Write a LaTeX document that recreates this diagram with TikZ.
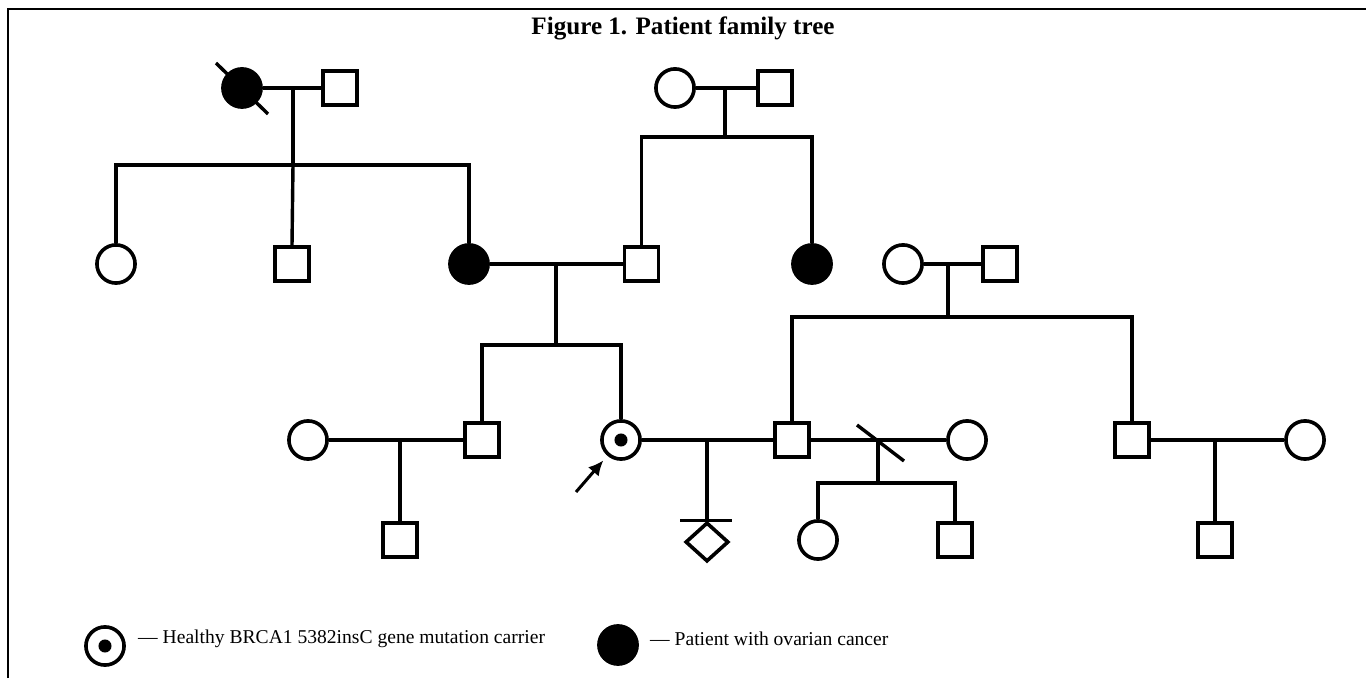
\documentclass[tikz,border=0pt]{standalone}
\usepackage{fontspec}
\setmainfont{Liberation Serif}
\usetikzlibrary{shapes,arrows,arrows.meta}
\usetikzlibrary{calc}
\tikzset{
  line/.style={draw, line width=3.4pt},
  female/.style={circle, draw, line width=3.6pt, minimum size=38pt, inner sep=0pt},
  male/.style={rectangle, draw, line width=3.6pt, minimum size=34pt, inner sep=0pt},
  affected/.style={fill=black},
  carrier/.style={female, path picture={\fill (path picture bounding box.center) circle (6.5pt);}},
  legendtext/.style={anchor=west, inner sep=0pt, font=\fontsize{19.5}{22}\selectfont}
}

\begin{document}
\begin{tikzpicture}[x=3.5cm, y=3.5cm]
  \useasboundingbox (0,0) rectangle (13.66,6.78);
  %\draw [help lines, step=.5] (0,0) grid (13.66,6.78);
  \draw[line width=2pt] (0.08,0) -- (0.08,6.685) -- (13.66,6.685);
  \node[font=\fontsize{25}{27}\selectfont\bfseries] (title) at (6.83,6.50) {Figure 1. Patient family tree};

  % generation I
  \node[female, affected] (gm1) at (2.42, 5.90) {};
  \node[male] (gf1) at (3.40, 5.90) {};
  \node[female] (gm2) at (6.75, 5.90) {};
  \node[male] (gf2) at (7.75, 5.90) {};
  \draw[line] (gm1.center) ++(-0.26,0.25) -- ++(0.52,-0.51);

  % generation II
  \node[female] (aunt) at (1.16, 4.14) {};
  \node[male] (uncle) at (2.92, 4.14) {};
  \node[female, affected] (mother) at (4.69, 4.14) {};
  \node[male] (father) at (6.415, 4.14) {};
  \node[female, affected] (fsis) at (8.12, 4.14) {};
  \node[female] (hgm) at (9.03, 4.14) {};
  \node[male] (hgf) at (10.00, 4.14) {};

  % generation III
  \node[female] (bwife) at (3.08, 2.38) {};
  \node[male] (bro) at (4.82, 2.38) {};
  \node[carrier] (prob) at (6.21, 2.38) {};
  \node[male] (husb) at (7.92, 2.38) {};
  \node[female] (exw) at (9.67, 2.38) {};
  \node[male] (hbro) at (11.32, 2.38) {};
  \node[female] (hbw) at (13.05, 2.38) {};

  % generation IV
  \node[male] (nep) at (4.00, 1.38) {};
  \node[diamond, draw, line width=3.6pt, minimum width=43pt, minimum height=39pt, inner sep=0pt] (misc) at (7.07, 1.36) {};
  \node[female] (sd) at (8.18, 1.38) {};
  \node[male] (ss) at (9.55, 1.38) {};
  \node[male] (hnep) at (12.15, 1.38) {};

  % unions and sibships
  \coordinate (u1) at (2.93, 5.90);
  \coordinate (s1) at (2.93, 5.13);
  \coordinate (u2) at (7.25, 5.90);
  \coordinate (s2) at (7.25, 5.41);
  \coordinate (u3) at (5.56, 4.14);
  \coordinate (s3) at (5.56, 3.33);
  \coordinate (u4) at (9.48, 4.14);
  \coordinate (s4) at (9.48, 3.61);
  \coordinate (u5) at (4.00, 2.38);
  \coordinate (u6) at (7.07, 2.38);
  \coordinate (u7) at (8.78, 2.38);
  \coordinate (s7) at (8.78, 1.95);
  \coordinate (u8) at (12.15, 2.38);

  \draw[line] (gm1) -- (gf1);
  \draw[line] (u1) -- (s1);
  \draw[line] (aunt.north) |- (s1) -| (mother.north);
  \draw[line] (s1) -- (uncle.north);

  \draw[line] (gm2) -- (gf2);
  \draw[line] (u2) -- (s2);
  \draw[line] (father.north) |- (s2) -| (fsis.north);

  \draw[line] (mother) -- (father);
  \draw[line] (u3) -- (s3);
  \draw[line] (bro.north) |- (s3) -| (prob.north);

  \draw[line] (hgm) -- (hgf);
  \draw[line] (u4) -- (s4);
  \draw[line] (husb.north) |- (s4) -| (hbro.north);

  \draw[line] (bwife) -- (bro);
  \draw[line] (u5) -- (nep.north);

  \draw[line] (prob) -- (husb);
  \draw[line] (u6) -- (misc.north);
  \draw[line] ($(misc.north)+(-0.27,0)$) -- ($(misc.north)+(0.25,0)$);

  \draw[line] (husb) -- (exw);
  \draw[line] ($(u7)+(-0.21,0.15)$) -- ($(u7)+(0.26,-0.21)$);
  \draw[line] (u7) -- (s7);
  \draw[line] (sd.north) |- (s7) -| (ss.north);

  \draw[line] (hbro) -- (hbw);
  \draw[line] (u8) -- (hnep.north);

  % proband
  \coordinate (pa) at (5.76, 1.86);
  \draw[line width=3pt, -{Latex[length=15pt,width=14pt]}, shorten >=6pt] (pa) -- (prob);

  % legend
  \node[carrier] (lg1) at (1.05, 0.32) {};
  \node[legendtext] (lt1) at (1.38, 0.39) {— Healthy BRCA1 5382insC gene mutation carrier};
  \node[female, affected] (lg2) at (6.18, 0.33) {};
  \node[legendtext] (lt2) at (6.50, 0.39) {— Patient with ovarian cancer};
\end{tikzpicture}
\end{document}
